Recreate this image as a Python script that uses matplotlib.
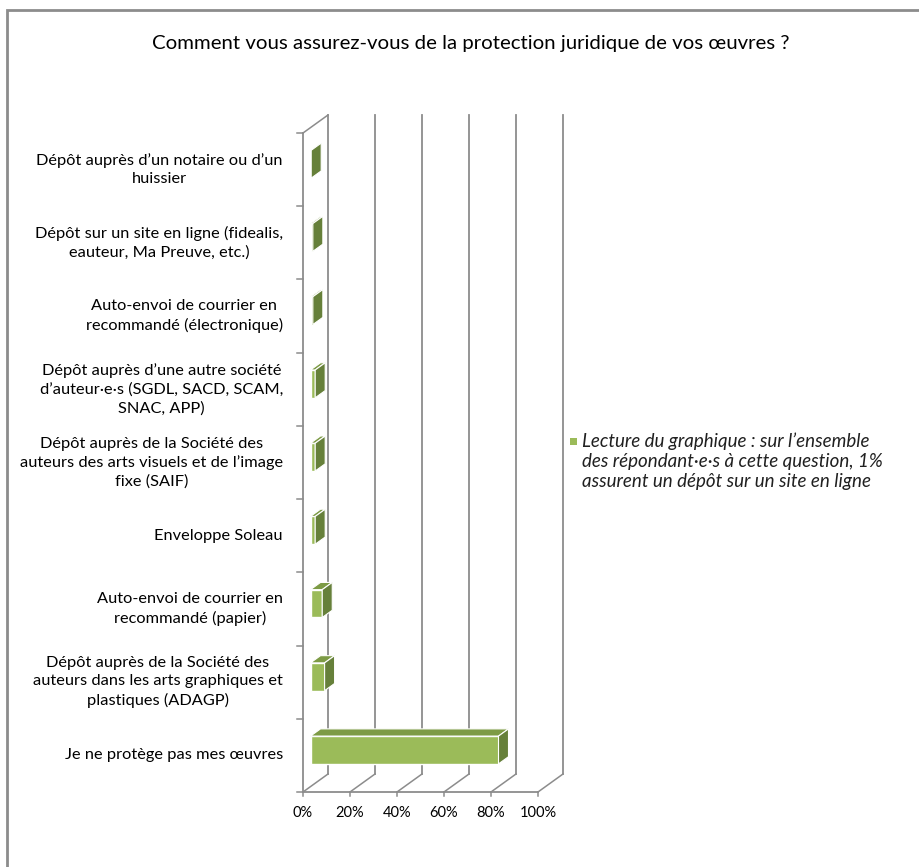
import matplotlib
matplotlib.use("Agg")
from matplotlib import pyplot as plt
from matplotlib.patches import Polygon, Rectangle

plt.rcParams['font.family'] = ['Lato', 'DejaVu Sans']

# bottom to top
categories = [
    "Je ne protège pas mes œuvres",
    "Dépôt auprès de la Société des\nauteurs dans les arts graphiques et\nplastiques (ADAGP)",
    "Auto-envoi de courrier en\nrecommandé (papier)",
    "Enveloppe Soleau",
    "Dépôt auprès de la Société des\nauteurs des arts visuels et de l’image\nfixe (SAIF)",
    "Dépôt auprès d’une autre société\nd’auteur·e·s (SGDL, SACD, SCAM,\nSNAC, APP)",
    "Auto-envoi de courrier en\nrecommandé (électronique)",
    "Dépôt sur un site en ligne (fidealis,\neauteur, Ma Preuve, etc.)",
    "Dépôt auprès d’un notaire ou d’un\nhuissier",
]
values = [80, 6, 5, 2, 2, 2, 1, 1, 0.3]
xticks = [0, 20, 40, 60, 80, 100]

title = "Comment vous assurez-vous de la protection juridique de vos œuvres ?"
legend_text = ("Lecture du graphique : sur l’ensemble\n"
               "des répondant·e·s à cette question, 1%\n"
               "assurent un dépôt sur un site en ligne")

W, H = 919, 867
fig = plt.figure(figsize=(W / 100, H / 100), dpi=100)

# front plane: 0% at px 303, 100% at px 538 ; y=-0.5 at px 792, 8.5 at px 133
px_x = (538 - 303) / 100.0
px_y = (792 - 133) / 9.0
ax_l, ax_r, ax_t, ax_b = 303, 600, 100, 792
ax = fig.add_axes([ax_l / W, 1 - ax_b / H, (ax_r - ax_l) / W, (ax_b - ax_t) / H])
ax.set_xlim(0, (ax_r - ax_l) / px_x)
ax.set_ylim(-0.5, -0.5 + (ax_b - ax_t) / px_y)
ax.axis('off')

DX = 25 / px_x   # depth offset in data units
DY = 18 / px_y
n = len(categories)
grid = '#8c8c8c'
ybot, ytop = -0.5, n - 0.5

# back wall gridlines
for v in xticks:
    ax.plot([v + DX, v + DX], [ybot + DY, ytop + DY], color=grid, lw=1.3,
            clip_on=False, zorder=1)
    # floor diagonals
    ax.plot([v, v + DX], [ybot, ybot + DY], color=grid, lw=1.1, clip_on=False, zorder=1)
    # bottom ticks
    ax.plot([v, v], [ybot, ybot - 4 / px_y], color=grid, lw=1.1, clip_on=False, zorder=1)
    ax.annotate(f"{v}%", xy=(v, ybot), xytext=(0, -21 * 0.72), textcoords='offset points',
                ha='center', va='center', fontsize=10.5, color='#000000')

# floor front edge, left wall
ax.plot([0, 100], [ybot, ybot], color=grid, lw=1.3, clip_on=False, zorder=1)
ax.plot([0, 0], [ybot, ytop], color=grid, lw=1.3, clip_on=False, zorder=1)
ax.plot([0, DX], [ytop, ytop + DY], color=grid, lw=1.1, clip_on=False, zorder=1)
for i in range(n + 1):
    ax.plot([0, -6 / px_x], [i - 0.5, i - 0.5], color=grid, lw=1.1, clip_on=False, zorder=1)

# bars
d0, dd, h = 0.3, 0.4, 0.38
x0 = d0 * DX
front = '#9bbb59'
side = '#66803a'
top = '#7d9b45'
ys = [i + d0 * DY for i in range(n)]
ax.barh(ys, values, height=h, left=x0, color=front, edgecolor='white', lw=1,
        zorder=3, clip_on=False)
for y, v in zip(ys, values):
    yb, yt = y - h / 2, y + h / 2
    xe = x0 + v
    ax.add_patch(Polygon([(x0, yt), (xe, yt), (xe + dd * DX, yt + dd * DY),
                          (x0 + dd * DX, yt + dd * DY)], closed=True,
                         facecolor=top, edgecolor='white', lw=0.8, zorder=3, clip_on=False))
    ax.add_patch(Polygon([(xe, yb), (xe, yt), (xe + dd * DX, yt + dd * DY),
                          (xe + dd * DX, yb + dd * DY)], closed=True,
                         facecolor=side, edgecolor='white', lw=0.8, zorder=3, clip_on=False))

for i, lab in enumerate(categories):
    ax.annotate(lab, xy=(0, i), xytext=(-20 * 0.72, 0), textcoords='offset points',
                ha='right', va='center', multialignment='center', fontsize=11.8,
                linespacing=1.37, color='#000000')

# title
fig.text(471 / W, 1 - 44 / H, title, ha='center', va='center', fontsize=14.7,
         color='#000000')

# legend
fig.patches.append(Rectangle((570 / W, 1 - 445 / H), 7 / W, 7 / H, transform=fig.transFigure,
                             facecolor=front, edgecolor='none', figure=fig))
fig.text(582 / W, 1 - 461 / H, legend_text, ha='left', va='center', fontsize=13.5,
         style='italic', linespacing=1.2, color='#202020', transform=fig.transFigure)

# outer frame
fig.patches.append(Rectangle((7 / W, -0.01), 1.0, 1 - 10 / H + 0.01, transform=fig.transFigure,
                             facecolor='none', edgecolor='#8c8c8c', lw=2, figure=fig))

fig.savefig("out.png", dpi=100)
